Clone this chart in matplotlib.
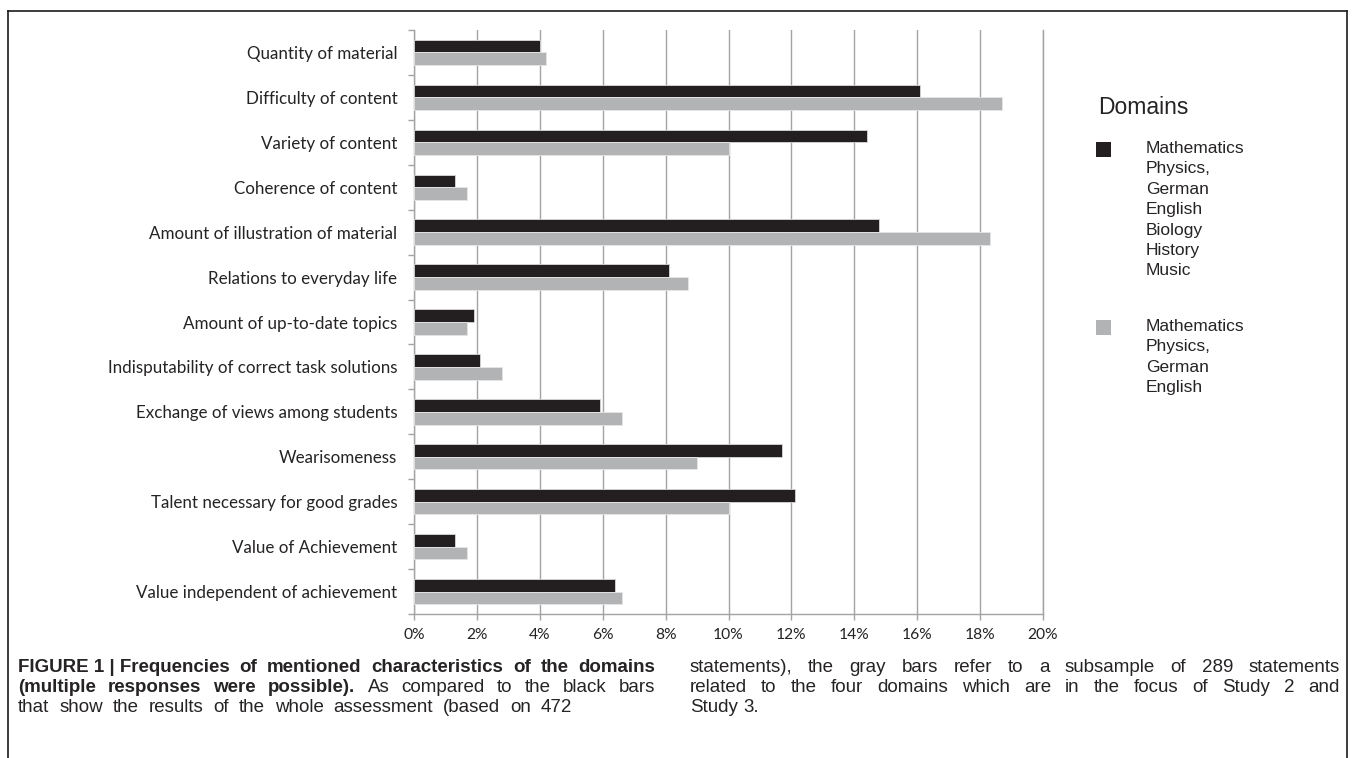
import matplotlib
matplotlib.use("Agg")
import matplotlib.pyplot as plt
from matplotlib.patches import Rectangle
from matplotlib.lines import Line2D
import numpy as np

# ---------------- data ----------------
categories = [
    "Quantity of material",
    "Difficulty of content",
    "Variety of content",
    "Coherence of content",
    "Amount of illustration of material",
    "Relations to everyday life",
    "Amount of up-to-date topics",
    "Indisputability of correct task solutions",
    "Exchange of views among students",
    "Wearisomeness",
    "Talent necessary for good grades",
    "Value of Achievement",
    "Value independent of achievement",
]
all_domains = [4.0, 16.1, 14.4, 1.3, 14.8, 8.1, 1.9, 2.1, 5.9, 11.7, 12.1, 1.3, 6.4]
four_domains = [4.2, 18.7, 10.0, 1.7, 18.3, 8.7, 1.7, 2.8, 6.6, 9.0, 10.0, 1.7, 6.6]
x_ticks = [0, 2, 4, 6, 8, 10, 12, 14, 16, 18, 20]
x_tick_labels = [f"{v}%" for v in x_ticks]
legend_title = "Domains"
legend_labels = [
    "Mathematics\nPhysics,\nGerman\nEnglish\nBiology\nHistory\nMusic",
    "Mathematics\nPhysics,\nGerman\nEnglish",
]
caption_left = [
    [("FIGURE 1 | Frequencies", "bold"), ("of", "bold"), ("mentioned", "bold"),
     ("characteristics", "bold"), ("of", "bold"), ("the", "bold"), ("domains", "bold")],
    [("(multiple", "bold"), ("responses", "bold"), ("were", "bold"), ("possible).", "bold"),
     ("As", "normal"), ("compared", "normal"), ("to", "normal"), ("the", "normal"),
     ("black", "normal"), ("bars", "normal")],
    [(w, "normal") for w in "that show the results of the whole assessment (based on 472".split()],
]
caption_right = [
    [(w, "normal") for w in "statements), the gray bars refer to a subsample of 289 statements".split()],
    [(w, "normal") for w in "related to the four domains which are in the focus of Study 2 and".split()],
    [(w, "normal") for w in "Study 3.".split()],
]

# ---------------- figure ----------------
W, H = 1355, 758
fig = plt.figure(figsize=(W / 100, H / 100), dpi=100)
fig.patch.set_facecolor("white")
renderer = fig.canvas.get_renderer()

def fx(px):
    return px / W

def fy(py):
    return 1 - py / H

def text_width(s, **kw):
    t = fig.text(0, 0, s, **kw)
    w = t.get_window_extent(renderer).width
    t.remove()
    return w

BLACK = "#231f20"
GRAY = "#b2b3b5"
GRID = "#a3a3a3"
TXT = "#262324"
label_font = "Lato"
sans = "Liberation Sans"

# frame (open at the bottom)
fig.add_artist(Line2D([fx(8), fx(8)], [fy(11), 0], color="#1a1a1a", lw=1.2))
fig.add_artist(Line2D([fx(1347), fx(1347)], [fy(11), 0], color="#1a1a1a", lw=1.2))
fig.add_artist(Line2D([fx(8), fx(1347)], [fy(11), fy(11)], color="#1a1a1a", lw=1.2))

# axes
ax = fig.add_axes([fx(414), fy(614), fx(1043) - fx(414), fy(30) - fy(614)])
y = np.arange(len(categories))
bh = 0.283
ax.barh(y - bh / 2, all_domains, height=bh, color=BLACK, edgecolor="#d9d9d9", linewidth=0.6, zorder=3)
ax.barh(y + bh / 2, four_domains, height=bh, color=GRAY, edgecolor="#e6e6e6", linewidth=0.6, zorder=3)

ax.set_xlim(0, 20)
ax.set_ylim(len(categories) - 0.5, -0.5)
ax.set_xticks(x_ticks)
ax.grid(axis="x", color=GRID, linewidth=1.0, zorder=0)
ax.set_axisbelow(True)
ax.spines["top"].set_visible(False)
for s in ["left", "bottom", "right"]:
    ax.spines[s].set_color(GRID)
    ax.spines[s].set_linewidth(1.0)

# label font size fitted to reference label width
lbl_size = 12 * 247 / text_width("Amount of illustration of material", fontsize=12, family=label_font)

ax.set_yticks(y)
ax.set_yticklabels(categories, fontsize=lbl_size, family=label_font, color=TXT)
ax.tick_params(axis="y", which="major", length=0, pad=12)
ax.set_yticks(np.arange(-0.5, len(categories)), minor=True)
ax.tick_params(axis="y", which="minor", length=4, color=GRID, width=1)
ax.set_xticklabels(x_tick_labels, fontsize=lbl_size * 0.92, family=label_font, color=TXT)
ax.tick_params(axis="x", which="major", length=4, color=GRID, width=1, pad=6)

# legend (drawn by hand to mirror the reference layout)
fig.text(fx(1098), fy(107), legend_title, fontsize=16.5, family=sans, color=TXT, va="center", ha="left")
leg_colors = [BLACK, GRAY]
leg_tops = [142, 320]
for col, top, lab in zip(leg_colors, leg_tops, legend_labels):
    fig.add_artist(Rectangle((fx(1096), fy(top + 15)), fx(15), 15 / H, facecolor=col,
                             edgecolor="none", transform=fig.transFigure))
    fig.text(fx(1146), fy(top - 1), lab, fontsize=12.5, family=sans, color=TXT,
             va="top", ha="left", linespacing=1.45)

# caption with justified lines
cap_size = 13.5

def draw_line(words, x0, x1, ypx, justify):
    widths = [text_width(w, fontsize=cap_size, family=sans, weight=wt) for w, wt in words]
    space = text_width("a a", fontsize=cap_size, family=sans) - text_width("aa", fontsize=cap_size, family=sans)
    if justify and len(words) > 1:
        gap = max(space * 0.6, ((x1 - x0) - sum(widths)) / (len(words) - 1))
    else:
        gap = space
    x = x0
    for (w, wt), wd in zip(words, widths):
        fig.text(fx(x), fy(ypx), w, fontsize=cap_size, family=sans, weight=wt, color=TXT,
                 va="center", ha="left")
        x += wd + gap

cap_y = [667, 687, 707]
left_ends = [655, 655, 572]
for i, line in enumerate(caption_left):
    draw_line(line, 18, left_ends[i], cap_y[i], justify=True)
for i, line in enumerate(caption_right):
    draw_line(line, 690, 1340, cap_y[i], justify=(i < 2))

fig.savefig("out.png", dpi=100, facecolor="white")
